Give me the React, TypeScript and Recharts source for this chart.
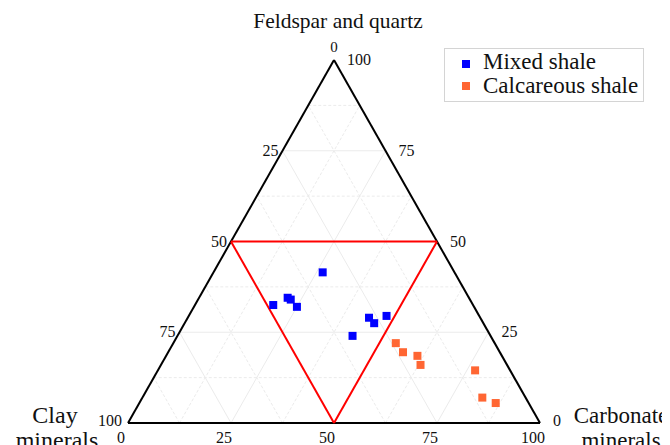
import { ScatterChart, Scatter, XAxis, YAxis, ReferenceLine, ReferenceDot } from 'recharts';

// composition of each sample, in % (clay + feldspar/quartz + carbonate = 100)
const mixedClay = [32, 48.5, 44, 43.5, 43, 27, 26.5, 22.5, 33.5];
const mixedFeldsparQuartz = [41.5, 32.5, 34.5, 34, 32, 29, 27.5, 29.5, 24];
const mixedCarbonate = [26.5, 19, 21.5, 22.5, 25, 44, 46, 48, 42.5];

const calcClay = [24, 23.5, 20.5, 21, 8.5, 10.5, 8];
const calcFeldsparQuartz = [22, 19.5, 18.5, 16, 14.5, 7, 5.5];
const calcCarbonate = [54, 57, 61, 63, 77, 82.5, 86.5];

const tickValues = [0, 25, 50, 75, 100];
const gridLevels = [12.5, 25, 37.5, 50, 62.5, 75, 87.5];
const boundary = 50;

const MIXED_COLOR = '#0000FF';
const CALC_COLOR = '#FF6633';
const FONT = '"Liberation Serif", "Times New Roman", serif';

// ternary -> cartesian (x across the base, y = feldspar & quartz)
const toXY = (fq: number, carb: number) => ({ x: carb + fq / 2, y: fq });

const mixedData = mixedClay.map((clay, i) => ({
  clay,
  ...toXY(mixedFeldsparQuartz[i], mixedCarbonate[i]),
}));
const calcData = calcClay.map((clay, i) => ({
  clay,
  ...toXY(calcFeldsparQuartz[i], calcCarbonate[i]),
}));

const Square = (props: any) => {
  const { cx, cy, fill } = props;
  if (cx == null || cy == null) return null;
  return <rect x={cx - 4} y={cy - 4} width={8} height={8} fill={fill} />;
};

const label = (text: string, dx: number, dy: number, anchor: string, size = 15) =>
  (p: any) => (
    <text
      x={p.cx + dx}
      y={p.cy + dy}
      textAnchor={anchor}
      fontFamily={FONT}
      fontSize={size}
      fill="#111"
    >
      {text}
    </text>
  );

const gridSegments = gridLevels.flatMap((k) => [
  [toXY(k, 0), toXY(k, 100 - k)],
  [toXY(0, k), toXY(100 - k, k)],
  [toXY(0, 100 - k), toXY(100 - k, 0)],
].map((seg) => ({ seg, dashed: k % 25 !== 0 })));

const apex = toXY(100, 0);
const left = toXY(0, 0);
const right = toXY(0, 100);
const redA = toXY(boundary, 0);
const redB = toXY(boundary, boundary);
const redC = toXY(0, boundary);

const legendItems = [
  { name: 'Mixed shale', color: MIXED_COLOR },
  { name: 'Calcareous shale', color: CALC_COLOR },
];

export default function App() {
  return (
    <div style={{ position: 'relative', width: 662, height: 437 }}>
      <ScatterChart
        width={662}
        height={437}
        margin={{ top: 52, right: 130, bottom: 22, left: 120 }}
      >
        <XAxis type="number" dataKey="x" domain={[0, 100]} hide />
        <YAxis type="number" dataKey="y" domain={[0, 100]} hide />

        {gridSegments.map((g, i) => (
          <ReferenceLine
            key={`g-${i}`}
            segment={g.seg}
            stroke="#ebebeb"
            strokeWidth={1}
            strokeDasharray={g.dashed ? '3 2' : undefined}
          />
        ))}

        <ReferenceLine segment={[apex, left]} stroke="#000" strokeWidth={2} />
        <ReferenceLine segment={[apex, right]} stroke="#000" strokeWidth={2} />
        <ReferenceLine segment={[left, right]} stroke="#000" strokeWidth={2} />

        <ReferenceLine segment={[redA, redB]} stroke="#FF0000" strokeWidth={2} />
        <ReferenceLine segment={[redB, redC]} stroke="#FF0000" strokeWidth={2} />
        <ReferenceLine segment={[redC, redA]} stroke="#FF0000" strokeWidth={2} />

        {/* clay ticks on the left edge */}
        {tickValues.map((v) => {
          const pt = toXY(100 - v, 0);
          return v === 0 ? (
            <ReferenceDot key={`l-${v}`} {...pt} r={0} ifOverflow="visible" shape={label('0', 0, -8, 'middle')} />
          ) : (
            <ReferenceDot key={`l-${v}`} {...pt} r={0} ifOverflow="visible" shape={label(String(v), v === 100 ? -6 : -4, v === 100 ? 3 : 5, 'end', 16)} />
          );
        })}
        {/* feldspar & quartz ticks on the right edge */}
        {tickValues.map((v) => (
          <ReferenceDot
            key={`r-${v}`}
            {...toXY(v, 100 - v)}
            r={0}
            ifOverflow="visible"
            shape={label(String(v), 13, v === 0 ? 3 : 5, 'start', 16)}
          />
        ))}
        {/* carbonate ticks on the base */}
        {tickValues.map((v) => (
          <ReferenceDot
            key={`b-${v}`}
            {...toXY(0, v)}
            r={0}
            ifOverflow="visible"
            shape={label(String(v), -7, 20, 'middle', 16)}
          />
        ))}

        <ReferenceDot {...apex} r={0} ifOverflow="visible" shape={label('Feldspar and quartz', 4, -32, 'middle', 21.5)} />
        <ReferenceDot {...left} r={0} ifOverflow="visible" shape={label('Clay', -73, 0, 'middle', 24)} />
        <ReferenceDot {...left} r={0} ifOverflow="visible" shape={label('minerals', -71, 25, 'middle', 24)} />
        <ReferenceDot {...right} r={0} ifOverflow="visible" shape={label('Carbonate', 81, 0, 'middle', 23)} />
        <ReferenceDot {...right} r={0} ifOverflow="visible" shape={label('minerals', 81, 25, 'middle', 23)} />

        <Scatter name="Mixed shale" data={mixedData} fill={MIXED_COLOR} shape={<Square />} isAnimationActive={false} />
        <Scatter name="Calcareous shale" data={calcData} fill={CALC_COLOR} shape={<Square />} isAnimationActive={false} />
      </ScatterChart>

      <div
        style={{
          position: 'absolute',
          left: 436,
          top: 40,
          width: 200,
          height: 54,
          border: '1px solid #d4d4d4',
          background: '#fff',
          fontFamily: FONT,
          fontSize: 23,
          color: '#111',
          boxSizing: 'border-box',
        }}
      >
        {legendItems.map((s, i) => (
          <div key={s.name}>
            <span
              style={{
                position: 'absolute',
                left: 17,
                top: 11 + i * 22,
                width: 8,
                height: 8,
                background: s.color,
              }}
            />
            <span
              style={{
                position: 'absolute',
                left: 38,
                top: 1 + i * 24,
                lineHeight: '23px',
                whiteSpace: 'nowrap',
              }}
            >
              {s.name}
            </span>
          </div>
        ))}
      </div>
    </div>
  );
}
